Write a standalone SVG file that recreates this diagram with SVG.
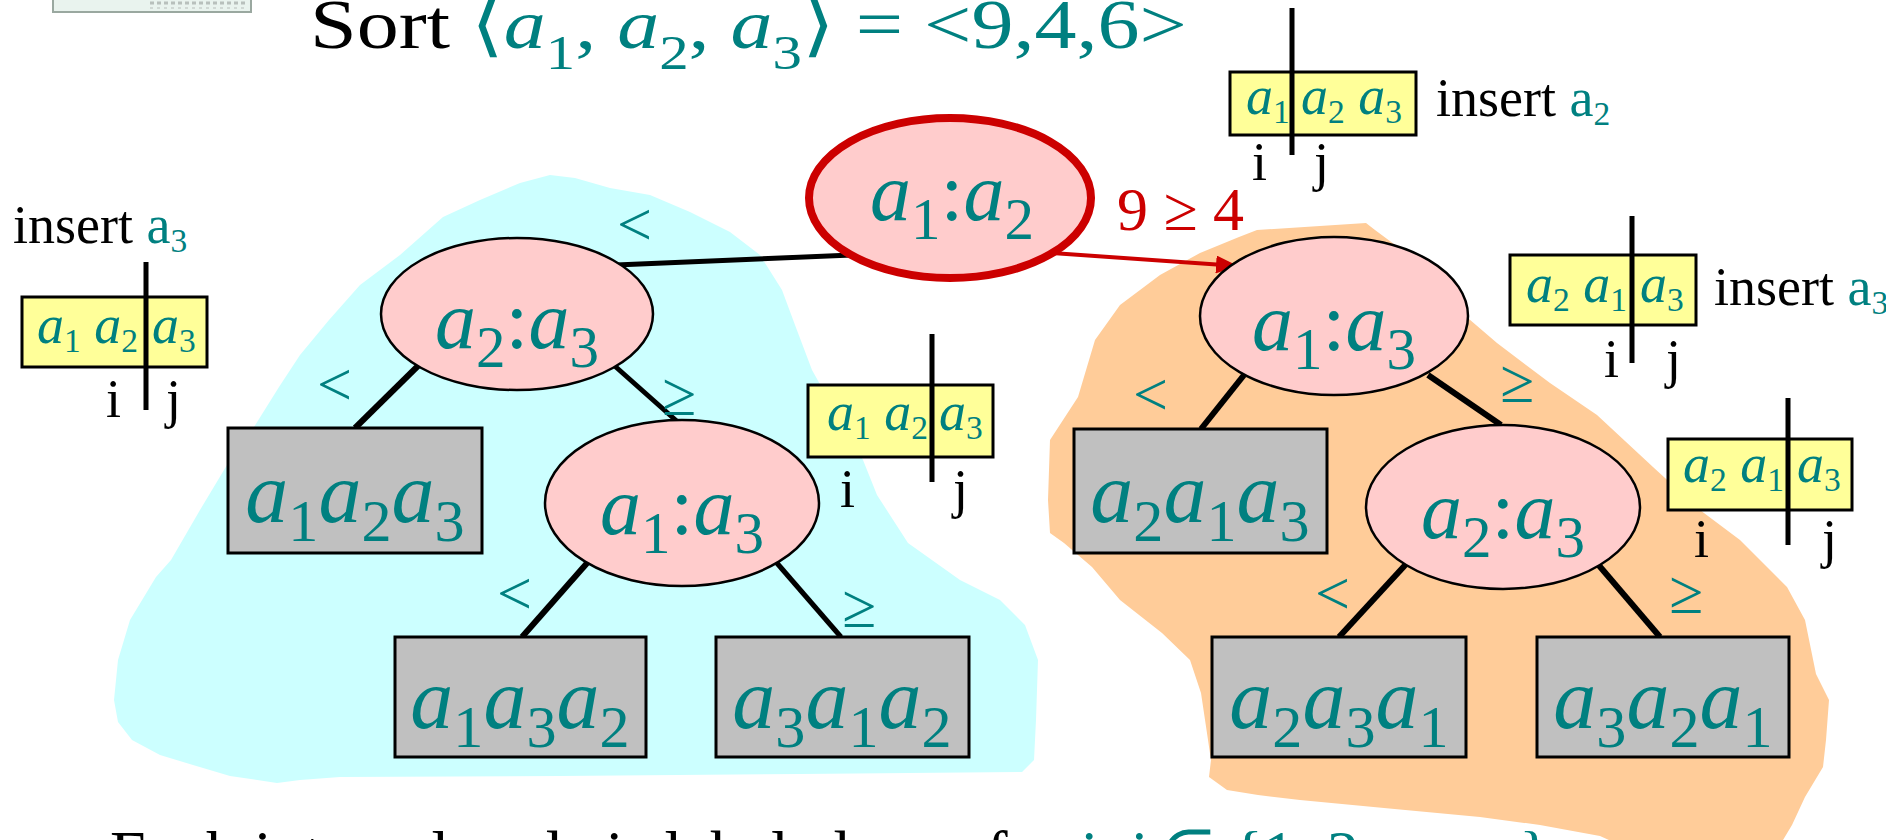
<svg xmlns="http://www.w3.org/2000/svg" width="1886" height="840" viewBox="0 0 1886 840">
<defs>
<style>
.t{font-family:"Liberation Serif","Times New Roman",serif}
.teal{fill:#008080}
.blk{fill:#000}
.red{fill:#cc0000}
.it{font-style:italic}
.ell{fill:#ffcccc;stroke:#000;stroke-width:2.5}
.root{fill:#ffcccc;stroke:#cc0000;stroke-width:8}
.gbox{fill:#c0c0c0;stroke:#000;stroke-width:3}
.ybox{fill:#ffff99;stroke:#000;stroke-width:3}
.div{stroke:#000;stroke-width:5}
.edge{stroke:#000;stroke-width:6;fill:none}
.nl{font-size:82px}
.gl{font-size:86px}
.yl{font-size:54px}
.sm{font-size:54px}
.el{font-size:62px}
.s72{font-size:0.72em}
.s70{font-size:0.70em}
.s62{font-size:0.62em}
.s65{font-size:0.65em}
</style>
<marker id="redarrow" markerUnits="userSpaceOnUse" markerWidth="24" markerHeight="18" refX="22" refY="9" orient="auto">
<path d="M0,0 L22,9 L0,18 Z" fill="#cc0000"/>
</marker>
</defs>
<rect x="0" y="0" width="1886" height="840" fill="#ffffff"/>

<g id="background-regions">
<path id="cyan-region" fill="#ccffff" d="M550,175 L575,178 L610,188 L650,195 L690,212 L730,232 L760,255 L782,290 L795,325 L812,370 L840,420 L863,460 L877,495 L908,543 L960,580 L1000,600 L1025,625 L1038,660 L1036,720 L1034,760 L1022,772 L800,774 L560,776 L340,777 L300,780 L277,783 L230,776 L193,765 L160,755 L132,740 L118,722 L114,700 L118,660 L130,620 L156,577 L171,560 L200,510 L230,460 L254,427 L279,387 L300,355 L329,320 L360,285 L400,255 L443,217 L480,200 L520,183 Z"/>
<path id="orange-region" fill="#ffcc99" d="M1200,253 L1239,237 L1257,230 L1366,223 L1375,230 L1406,253 L1440,285 L1462,313 L1497,343 L1550,383 L1597,415 L1653,467 L1700,510 L1740,540 L1787,587 L1805,620 L1816,674 L1829,700 L1826,740 L1823,767 L1805,797 L1792,825 L1780,845 L1620,845 L1600,836 L1540,825 L1480,817 L1384,808 L1300,800 L1258,795 L1227,790 L1209,777 L1211,760 L1201,693 L1190,660 L1162,633 L1120,600 L1092,567 L1064,543 L1050,533 L1048,500 L1050,440 L1078,397 L1095,340 L1120,305 L1160,275 Z"/>
</g>

<g id="corner-fragment">
<rect x="53" y="-6" width="198" height="18" fill="#e9f3ee" stroke="#9aa8a0" stroke-width="2"/>
<line x1="150" y1="3" x2="245" y2="3" stroke="#b8c0bc" stroke-width="3" stroke-dasharray="4 3"/>
<line x1="150" y1="8" x2="245" y2="8" stroke="#d0d8d4" stroke-width="2" stroke-dasharray="3 4"/>
</g>

<g id="title">
<text class="t" font-size="70" transform="translate(310,48) scale(1.2,1)" x="0" y="0"><tspan class="blk">Sort </tspan><tspan class="teal" font-family="'Liberation Serif','DejaVu Serif',serif">⟨</tspan><tspan class="teal it">a</tspan><tspan class="teal s70" dy="21">1</tspan><tspan class="teal" dy="-21">, </tspan><tspan class="teal it">a</tspan><tspan class="teal s70" dy="21">2</tspan><tspan class="teal" dy="-21">, </tspan><tspan class="teal it">a</tspan><tspan class="teal s70" dy="21">3</tspan><tspan class="teal" dy="-21" font-family="'Liberation Serif','DejaVu Serif',serif">⟩</tspan><tspan class="teal"> = &lt;9,4,6&gt;</tspan></text>
</g>

<g id="connectors">
<line class="edge" x1="616" y1="265" x2="852" y2="255" style="stroke-width:5"/>
<line x1="1052" y1="253" x2="1238" y2="266" stroke="#cc0000" stroke-width="4" marker-end="url(#redarrow)"/>
<line class="edge" x1="424" y1="360" x2="355" y2="428"/>
<line class="edge" x1="608" y1="360" x2="680" y2="424" style="stroke-width:5"/>
<line class="edge" x1="588" y1="562" x2="522" y2="637"/>
<line class="edge" x1="776" y1="562" x2="841" y2="637" style="stroke-width:5"/>
<line class="edge" x1="1244" y1="375" x2="1201" y2="429"/>
<line class="edge" x1="1428" y1="375" x2="1501" y2="425"/>
<line class="edge" x1="1408" y1="562" x2="1339" y2="637"/>
<line class="edge" x1="1596" y1="562" x2="1660" y2="637"/>
</g>

<g id="edge-labels" class="t teal el">
<text x="617" y="245">&lt;</text>
<text x="317" y="405">&lt;</text>
<text x="662" y="415">≥</text>
<text x="497" y="614">&lt;</text>
<text x="842" y="627">≥</text>
<text x="1133" y="415">&lt;</text>
<text x="1500" y="402">≥</text>
<text x="1315" y="614">&lt;</text>
<text x="1669" y="613">≥</text>
<text x="1117" y="230" style="fill:#cc0000">9 ≥ 4</text>
</g>

<g id="node-root">
<ellipse class="root" cx="950" cy="198" rx="141" ry="80"/>
<text class="t teal nl" x="952" y="220" text-anchor="middle"><tspan class="it">a</tspan><tspan class="s72" dy="19">1</tspan><tspan dy="-19">:</tspan><tspan class="it">a</tspan><tspan class="s72" dy="19">2</tspan></text>
</g>

<g id="node-L-a2a3">
<ellipse class="ell" cx="517" cy="314" rx="136" ry="76"/>
<text class="t teal nl" x="517" y="348" text-anchor="middle"><tspan class="it">a</tspan><tspan class="s72" dy="19">2</tspan><tspan dy="-19">:</tspan><tspan class="it">a</tspan><tspan class="s72" dy="19">3</tspan></text>
</g>

<g id="node-L-a1a3">
<ellipse class="ell" cx="682" cy="503" rx="137" ry="83"/>
<text class="t teal nl" x="682" y="534" text-anchor="middle"><tspan class="it">a</tspan><tspan class="s72" dy="19">1</tspan><tspan dy="-19">:</tspan><tspan class="it">a</tspan><tspan class="s72" dy="19">3</tspan></text>
</g>

<g id="node-R-a1a3">
<ellipse class="ell" cx="1334" cy="316" rx="134" ry="79"/>
<text class="t teal nl" x="1334" y="350" text-anchor="middle"><tspan class="it">a</tspan><tspan class="s72" dy="19">1</tspan><tspan dy="-19">:</tspan><tspan class="it">a</tspan><tspan class="s72" dy="19">3</tspan></text>
</g>

<g id="node-R-a2a3">
<ellipse class="ell" cx="1503" cy="507" rx="137" ry="82"/>
<text class="t teal nl" x="1503" y="538" text-anchor="middle"><tspan class="it">a</tspan><tspan class="s72" dy="19">2</tspan><tspan dy="-19">:</tspan><tspan class="it">a</tspan><tspan class="s72" dy="19">3</tspan></text>
</g>

<g id="leaf-a1a2a3">
<rect class="gbox" x="228" y="428" width="254" height="125"/>
<text class="t teal gl" x="355" y="522" text-anchor="middle"><tspan class="it">a</tspan><tspan class="s70" dy="19">1</tspan><tspan class="it" dy="-19">a</tspan><tspan class="s70" dy="19">2</tspan><tspan class="it" dy="-19">a</tspan><tspan class="s70" dy="19">3</tspan></text>
</g>

<g id="leaf-a2a1a3">
<rect class="gbox" x="1074" y="429" width="253" height="124"/>
<text class="t teal gl" x="1200" y="522" text-anchor="middle"><tspan class="it">a</tspan><tspan class="s70" dy="19">2</tspan><tspan class="it" dy="-19">a</tspan><tspan class="s70" dy="19">1</tspan><tspan class="it" dy="-19">a</tspan><tspan class="s70" dy="19">3</tspan></text>
</g>

<g id="leaf-a1a3a2">
<rect class="gbox" x="395" y="637" width="251" height="120"/>
<text class="t teal gl" x="520" y="728" text-anchor="middle"><tspan class="it">a</tspan><tspan class="s70" dy="19">1</tspan><tspan class="it" dy="-19">a</tspan><tspan class="s70" dy="19">3</tspan><tspan class="it" dy="-19">a</tspan><tspan class="s70" dy="19">2</tspan></text>
</g>

<g id="leaf-a3a1a2">
<rect class="gbox" x="716" y="637" width="253" height="120"/>
<text class="t teal gl" x="842" y="728" text-anchor="middle"><tspan class="it">a</tspan><tspan class="s70" dy="19">3</tspan><tspan class="it" dy="-19">a</tspan><tspan class="s70" dy="19">1</tspan><tspan class="it" dy="-19">a</tspan><tspan class="s70" dy="19">2</tspan></text>
</g>

<g id="leaf-a2a3a1">
<rect class="gbox" x="1212" y="637" width="254" height="120"/>
<text class="t teal gl" x="1339" y="728" text-anchor="middle"><tspan class="it">a</tspan><tspan class="s70" dy="19">2</tspan><tspan class="it" dy="-19">a</tspan><tspan class="s70" dy="19">3</tspan><tspan class="it" dy="-19">a</tspan><tspan class="s70" dy="19">1</tspan></text>
</g>

<g id="leaf-a3a2a1">
<rect class="gbox" x="1537" y="637" width="252" height="120"/>
<text class="t teal gl" x="1663" y="728" text-anchor="middle"><tspan class="it">a</tspan><tspan class="s70" dy="19">3</tspan><tspan class="it" dy="-19">a</tspan><tspan class="s70" dy="19">2</tspan><tspan class="it" dy="-19">a</tspan><tspan class="s70" dy="19">1</tspan></text>
</g>

<g id="array-top">
<rect class="ybox" x="1230" y="72" width="186" height="63"/>
<line class="div" x1="1292" y1="8" x2="1292" y2="155"/>
<text class="t teal yl" x="1246" y="114"><tspan class="it">a</tspan><tspan class="s62" dy="9">1</tspan></text>
<text class="t teal yl" x="1301" y="114"><tspan class="it">a</tspan><tspan class="s62" dy="9">2</tspan><tspan dy="-9"> </tspan><tspan class="it">a</tspan><tspan class="s62" dy="9">3</tspan></text>
<text class="t sm" x="1436" y="116"><tspan class="blk">insert </tspan><tspan class="teal">a</tspan><tspan class="teal s62" dy="9">2</tspan></text>
<text class="t sm blk" x="1252" y="180">i</text>
<text class="t sm blk" x="1314" y="180">j</text>
</g>

<g id="array-left">
<text class="t sm" x="13" y="243"><tspan class="blk">insert </tspan><tspan class="teal">a</tspan><tspan class="teal s62" dy="9">3</tspan></text>
<rect class="ybox" x="22" y="297" width="185" height="70"/>
<line class="div" x1="146" y1="262" x2="146" y2="410"/>
<text class="t teal yl" x="37" y="343"><tspan class="it">a</tspan><tspan class="s62" dy="9">1</tspan><tspan dy="-9"> </tspan><tspan class="it">a</tspan><tspan class="s62" dy="9">2</tspan></text>
<text class="t teal yl" x="152" y="343"><tspan class="it">a</tspan><tspan class="s62" dy="9">3</tspan></text>
<text class="t sm blk" x="106" y="417">i</text>
<text class="t sm blk" x="166" y="417">j</text>
</g>

<g id="array-mid-left">
<rect class="ybox" x="808" y="385" width="185" height="72"/>
<line class="div" x1="932" y1="334" x2="932" y2="482"/>
<text class="t teal yl" x="827" y="430"><tspan class="it">a</tspan><tspan class="s62" dy="9">1</tspan><tspan dy="-9"> </tspan><tspan class="it">a</tspan><tspan class="s62" dy="9">2</tspan></text>
<text class="t teal yl" x="939" y="430"><tspan class="it">a</tspan><tspan class="s62" dy="9">3</tspan></text>
<text class="t sm blk" x="840" y="507">i</text>
<text class="t sm blk" x="953" y="507">j</text>
</g>

<g id="array-mid-right">
<rect class="ybox" x="1510" y="255" width="186" height="70"/>
<line class="div" x1="1632" y1="216" x2="1632" y2="363"/>
<text class="t teal yl" x="1526" y="302"><tspan class="it">a</tspan><tspan class="s62" dy="9">2</tspan><tspan dy="-9"> </tspan><tspan class="it">a</tspan><tspan class="s62" dy="9">1</tspan></text>
<text class="t teal yl" x="1640" y="302"><tspan class="it">a</tspan><tspan class="s62" dy="9">3</tspan></text>
<text class="t sm" x="1714" y="305"><tspan class="blk">insert </tspan><tspan class="teal">a</tspan><tspan class="teal s62" dy="9">3</tspan></text>
<text class="t sm blk" x="1604" y="377">i</text>
<text class="t sm blk" x="1666" y="377">j</text>
</g>

<g id="array-bottom-right">
<rect class="ybox" x="1668" y="439" width="184" height="71"/>
<line class="div" x1="1788" y1="398" x2="1788" y2="545"/>
<text class="t teal yl" x="1683" y="482"><tspan class="it">a</tspan><tspan class="s62" dy="9">2</tspan><tspan dy="-9"> </tspan><tspan class="it">a</tspan><tspan class="s62" dy="9">1</tspan></text>
<text class="t teal yl" x="1797" y="482"><tspan class="it">a</tspan><tspan class="s62" dy="9">3</tspan></text>
<text class="t sm blk" x="1694" y="557">i</text>
<text class="t sm blk" x="1822" y="557">j</text>
</g>

<g id="caption">
<text class="t" font-size="64" x="110" y="875"><tspan class="blk">Each internal node is labeled </tspan><tspan class="teal it">a</tspan><tspan class="teal it s65" dy="12">i</tspan><tspan class="teal" dy="-12">:</tspan><tspan class="teal it">a</tspan><tspan class="teal it s65" dy="12">j</tspan><tspan class="blk" dy="-12"> for </tspan><tspan class="teal it">i</tspan><tspan class="teal">, </tspan><tspan class="teal it">j</tspan><tspan class="teal"> ∈ {1, 2, …, n}.</tspan></text>
</g>
</svg>
